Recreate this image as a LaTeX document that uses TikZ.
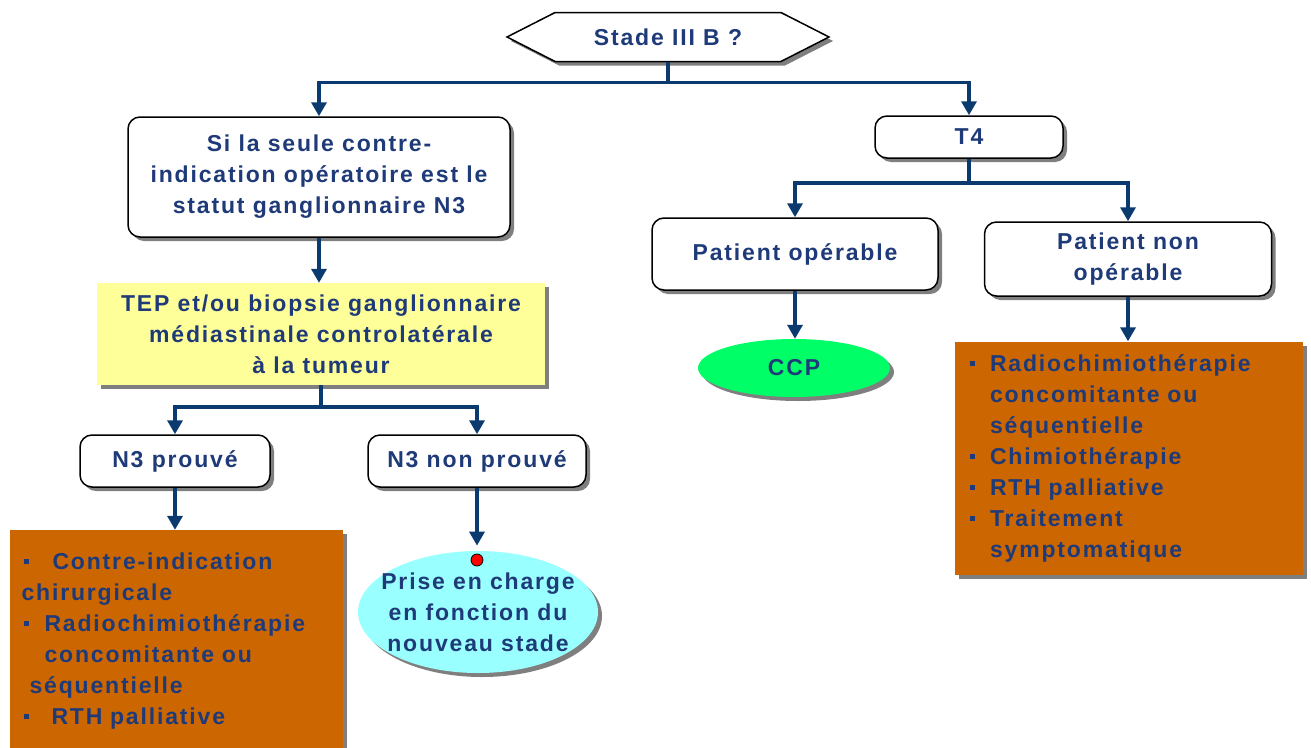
\documentclass[tikz,border=0pt]{standalone}
\usepackage{fontspec}
\setmainfont{Liberation Sans}[LetterSpace=8]
\usetikzlibrary{arrows.meta,shadows,shapes.geometric,shapes.symbols}
\definecolor{texte}{HTML}{1F3A78}
\definecolor{trait}{HTML}{0B3A6E}
\definecolor{jaune}{HTML}{FFFF99}
\definecolor{brique}{HTML}{CC6600}
\definecolor{vert}{HTML}{00FF66}
\definecolor{ciel}{HTML}{99FFFF}
\definecolor{ombre}{HTML}{7F7F7F}
\newcommand\puce{\raisebox{5pt}{\rule{5pt}{5pt}}}
\begin{document}
\begin{tikzpicture}[x=1pt,y=-1pt,font=\fontsize{23}{31}\selectfont\bfseries]
\tikzstyle{every node}=[text=texte,inner sep=0pt,align=center]
\tikzstyle{ombrage}=[drop shadow={shadow xshift=4pt,shadow yshift=-4pt,fill=ombre,opacity=1}]
\tikzstyle{boite}=[draw,fill=white,rounded corners=12pt,line width=1.5pt,ombrage]
\tikzstyle{liste}=[fill=brique,align=left,inner xsep=12pt,ombrage]
\tikzstyle{fleche}=[draw=trait,line width=3.5pt,-{Triangle[width=15pt,length=14pt]}]
\useasboundingbox (0,0) rectangle (1311,747);
\node[signal,signal to=west and east,signal pointer angle=54,draw,fill=white,line width=1.5pt,ombrage,minimum width=322,minimum height=49] (stade) at (668,37) {Stade III B ?};
\node[boite,minimum width=382,minimum height=120] (si) at (319,177) {Si la seule contre-\\indication opératoire est le\\statut ganglionnaire N3};
\node[fill=jaune,ombrage,minimum width=448,minimum height=102] (tep) at (321,334) {TEP et/ou biopsie ganglionnaire\\médiastinale controlatérale\\à la tumeur};
\node[boite,minimum width=190,minimum height=52] (prouve) at (175,461) {N3 prouvé};
\node[boite,minimum width=218,minimum height=52] (nonprouve) at (477,461) {N3 non prouvé};
\node[liste,text width=309,minimum height=222] (ci) at (176,641) {\hspace*{3pt}\makebox[28pt][l]{\puce}Contre-indication\\chirurgicale\\\hspace*{3pt}\makebox[20pt][l]{\puce}Radiochimiothérapie\\\hspace*{23pt}concomitante ou\\\hspace*{8pt}séquentielle\\\hspace*{3pt}\makebox[27pt][l]{\puce}RTH palliative};
\node[ellipse,fill=ciel,ombrage,inner xsep=-30pt,minimum width=240,minimum height=122] (prise) at (478,612) {Prise en charge\\en fonction du\\nouveau stade};
\node[circle,draw=black,fill=red,line width=0.8pt,minimum size=12] (rouge) at (477,560) {};
\node[boite,minimum width=188,minimum height=42] (t4) at (969,137) {T4};
\node[boite,minimum width=286,minimum height=72] (operable) at (795,254) {Patient opérable};
\node[boite,minimum width=287,minimum height=74] (nonoperable) at (1128,259) {Patient non\\opérable};
\node[ellipse,fill=vert,ombrage,minimum width=192,minimum height=58] (ccp) at (794,368) {CCP};
\node[liste,inner xsep=15pt,text width=318,minimum height=233] (radio) at (1129,458) {\makebox[20pt][l]{\puce}Radiochimiothérapie\\\hspace*{20pt}concomitante ou\\\hspace*{20pt}séquentielle\\\makebox[20pt][l]{\puce}Chimiothérapie\\\makebox[20pt][l]{\puce}RTH palliative\\\makebox[20pt][l]{\puce}Traitement\\\hspace*{20pt}symptomatique};
\foreach \b in {si,t4}
 \draw[fleche] (stade.south) -- ++(0,20) -| (\b.north);
\draw[fleche] (si.south) -- (si.south |- tep.north);
\foreach \b in {prouve,nonprouve}
 \draw[fleche] (tep.south) -- ++(0,22) -| (\b.north);
\draw[fleche] (prouve.south) -- (prouve.south |- ci.north);
\draw[fleche,shorten >=8pt] (nonprouve.south) -- (rouge.north);
\foreach \b in {operable,nonoperable}
 \draw[fleche] (t4.south) -- ++(0,24) -| (\b.north);
\draw[fleche] (operable.south) -- (operable.south |- ccp.north);
\draw[fleche] (nonoperable.south) -- (nonoperable.south |- radio.north);
\end{tikzpicture}
\end{document}
